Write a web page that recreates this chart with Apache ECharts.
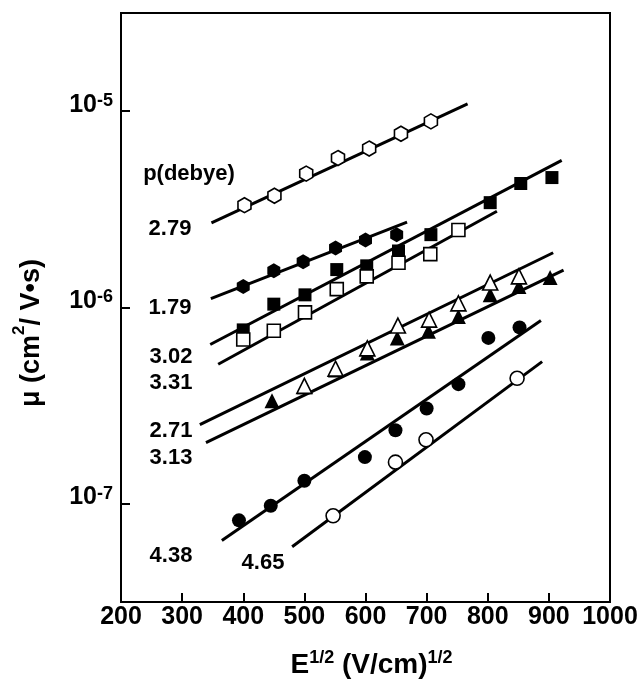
<!DOCTYPE html>
<html><head><meta charset="utf-8">
<script src="https://cdn.jsdelivr.net/npm/echarts@6/dist/echarts.min.js"></script>
<style>html,body{margin:0;padding:0;background:#fff}#c{width:642px;height:684px}</style>
</head><body><div id="c"></div>
<script>
// ---- data (x = E^1/2 in (V/cm)^1/2, y = mobility in cm^2/V·s) ----
const hexOpenX = [402, 451, 503, 555, 606, 658, 707];
const hexOpenY = [3.32e-6, 3.71e-6, 4.81e-6, 5.77e-6, 6.45e-6, 7.67e-6, 8.87e-6];
const hexFillX = [400, 450, 498, 551, 600, 651];
const hexFillY = [1.28e-6, 1.54e-6, 1.71e-6, 2.01e-6, 2.21e-6, 2.35e-6];
const sqFillX = [400, 450, 501, 553, 602, 654, 707, 804, 854, 905];
const sqFillY = [7.69e-7, 1.04e-6, 1.16e-6, 1.56e-6, 1.63e-6, 1.94e-6, 2.35e-6, 3.42e-6, 4.28e-6, 4.59e-6];
const sqOpenX = [400, 450, 501, 553, 602, 654, 706, 752];
const sqOpenY = [6.87e-7, 7.62e-7, 9.44e-7, 1.24e-6, 1.44e-6, 1.69e-6, 1.87e-6, 2.48e-6];
const triOpenX = [500, 551, 603, 653, 704, 752, 804, 851];
const triOpenY = [3.99e-7, 4.88e-7, 6.19e-7, 8.09e-7, 8.67e-7, 1.05e-6, 1.34e-6, 1.44e-6];
const triFillX = [447, 500, 551, 603, 652, 703, 752, 804, 851, 902];
const triFillY = [3.35e-7, 3.95e-7, 4.81e-7, 5.86e-7, 7.0e-7, 7.57e-7, 9.0e-7, 1.16e-6, 1.28e-6, 1.42e-6];
const circFillX = [393, 445, 500, 599, 649, 700, 752, 801, 852];
const circFillY = [8.24e-8, 9.77e-8, 1.31e-7, 1.73e-7, 2.37e-7, 3.06e-7, 4.07e-7, 7.0e-7, 7.92e-7];
const circOpenX = [547, 649, 699, 848];
const circOpenY = [8.69e-8, 1.63e-7, 2.12e-7, 4.36e-7];

// fitted lines: [x, y] end points
const fit279 = [[348, 2.70e-6], [767, 1.089e-5]];
const fit179 = [[347, 1.11e-6], [668, 2.72e-6]];
const fit302 = [[346, 6.48e-7], [921, 5.61e-6]];
const fit331 = [[359, 5.14e-7], [815, 3.09e-6]];
const fit271 = [[329, 2.53e-7], [907, 1.90e-6]];
const fit313 = [[339, 2.05e-7], [924, 1.55e-6]];
const fit438 = [[365, 6.50e-8], [887, 8.59e-7]];
const fit465 = [[480, 6.04e-8], [889, 5.30e-7]];

const xTicks = [200, 300, 400, 500, 600, 700, 800, 900, 1000];
const dipoleLabels = ['2.79', '1.79', '3.02', '3.31', '2.71', '3.13', '4.38', '4.65'];
const legendTitle = 'p(debye)';

// ---- chart ----
const FONT = '"Liberation Sans", Arial, Helvetica, sans-serif';
const HEX = 'path://M0,-10L8.66,-5L8.66,5L0,10L-8.66,5L-8.66,-5Z';
function pts(xs, ys) { return xs.map((x, i) => [x, ys[i]]); }

function fitLine(d) {
  return { type: 'line', data: d, symbol: 'none', z: 1, silent: true,
    lineStyle: { color: '#000', width: 3 } };
}
function scat(xs, ys, symbol, size, filled, z) {
  return { type: 'scatter', data: pts(xs, ys), symbol: symbol, symbolSize: size, z: z,
    symbolKeepAspect: true,
    itemStyle: { color: filled ? '#000' : '#fff', borderColor: '#000', borderWidth: filled ? 0 : 1.6, opacity: 1 } };
}

const labelPos = [[170, 229], [170, 308], [171, 357], [171, 383], [171, 431], [171, 458], [171, 556], [263, 563]];
const graphics = dipoleLabels.map((t, i) => ({
  type: 'text', x: labelPos[i][0], y: labelPos[i][1],
  style: { text: t, font: 'bold 22px ' + FONT, fill: '#000', textAlign: 'center', textVerticalAlign: 'middle', align: 'center', verticalAlign: 'middle' }
}));
graphics.push({ type: 'text', x: 189, y: 174,
  style: { text: legendTitle, font: 'bold 22px ' + FONT, fill: '#000', textAlign: 'center', textVerticalAlign: 'middle', align: 'center', verticalAlign: 'middle' } });
graphics.push({ type: 'text', x: 28, y: 333, rotation: Math.PI / 2,
  style: { text: '{t|\u03bc (cm}{s|2}{t|/ V\u2022s)}', align: 'center', verticalAlign: 'middle', textAlign: 'center', textVerticalAlign: 'middle',
    rich: {
      t: { fontSize: 27, fontWeight: 'bold', fontFamily: FONT, fill: '#000', color: '#000', lineHeight: 34, verticalAlign: 'bottom' },
      s: { fontSize: 17, fontWeight: 'bold', fontFamily: FONT, fill: '#000', color: '#000', lineHeight: 14, verticalAlign: 'top' }
    } } });

const option = {
  animation: false,
  backgroundColor: '#fff',
  grid: { left: 121, right: 32, top: 13, bottom: 77, show: true, borderColor: '#000', borderWidth: 2, backgroundColor: 'transparent' },
  xAxis: {
    type: 'value', min: xTicks[0], max: xTicks[xTicks.length - 1], interval: 100,
    axisLine: { lineStyle: { color: '#000', width: 2 } },
    axisTick: { inside: true, length: 9, lineStyle: { color: '#000', width: 2 } },
    splitLine: { show: false },
    axisLabel: { color: '#000', fontSize: 25, fontWeight: 'bold', fontFamily: FONT, margin: 3,
      formatter: function (v) { return String(v); } },
    name: '{b|E}{s|1/2}{b| (V/cm)}{s|1/2}',
    nameLocation: 'middle', nameGap: 47,
    nameTextStyle: { padding: [0, 0, 0, 12], rich: {
      b: { fontSize: 28, fontWeight: 'bold', fontFamily: FONT, color: '#000', lineHeight: 32, verticalAlign: 'middle' },
      s: { fontSize: 18, fontWeight: 'bold', fontFamily: FONT, color: '#000', lineHeight: 18, verticalAlign: 'top' }
    } }
  },
  yAxis: {
    type: 'log', logBase: 10, min: Math.pow(10, -7.5), max: Math.pow(10, -4.5),
    axisLine: { lineStyle: { color: '#000', width: 2 } },
    axisTick: { inside: true, length: 9, lineStyle: { color: '#000', width: 2 } },
    splitLine: { show: false },
    axisLabel: { color: '#000', margin: 8, showMinLabel: false, showMaxLabel: false,
      formatter: function (v) {
        const e = Math.log10(v); const r = Math.round(e);
        if (Math.abs(e - r) > 1e-6) return '';
        return '{b|10}{s|' + r + '}';
      },
      rich: {
        b: { fontSize: 25, fontWeight: 'bold', fontFamily: FONT, color: '#000', lineHeight: 38, verticalAlign: 'top' },
        s: { fontSize: 18, fontWeight: 'bold', fontFamily: FONT, color: '#000', lineHeight: 4, verticalAlign: 'top' }
      } }
  },
  graphic: graphics,
  series: [
    fitLine(fit279), fitLine(fit179), fitLine(fit302), fitLine(fit331),
    fitLine(fit271), fitLine(fit313), fitLine(fit438), fitLine(fit465),
    scat(hexFillX, hexFillY, HEX, 15, true, 2),
    scat(sqFillX, sqFillY, 'rect', 13, true, 2),
    scat(triFillX, triFillY, 'triangle', 15, true, 2),
    scat(circFillX, circFillY, 'circle', 14, true, 2),
    scat(hexOpenX, hexOpenY, HEX, 15, false, 3),
    scat(sqOpenX, sqOpenY, 'rect', 13, false, 3),
    scat(triOpenX, triOpenY, 'triangle', 15, false, 3),
    scat(circOpenX, circOpenY, 'circle', 14, false, 3)
  ]
};
const chart = echarts.init(document.getElementById('c'), null, { renderer: 'canvas' });
chart.setOption(option);
</script>
</body></html>
